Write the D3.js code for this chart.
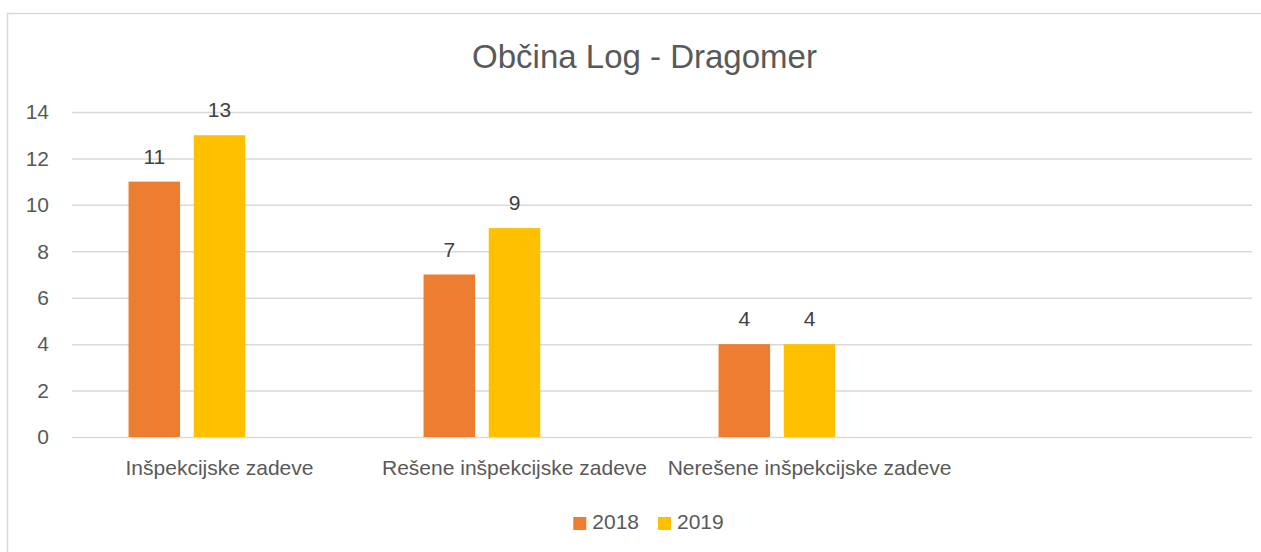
<!DOCTYPE html>
<html>
<head>
<meta charset="utf-8">
<script src="https://cdn.jsdelivr.net/npm/d3@7"></script>
<style>
  body { margin: 0; background: #fff; }
  svg text { font-family: "Liberation Sans", Arial, sans-serif; }
</style>
</head>
<body>
<svg id="canvas" width="1261" height="552"></svg>
<script>
// chart values
let categories = ['Inšpekcijske zadeve', 'Rešene inšpekcijske zadeve', 'Nerešene inšpekcijske zadeve', ''];
let years = ['2018', '2019'];
let values2018 = [11, 7, 4];
let values2019 = [13, 9, 4];
let yTicks = [0, 2, 4, 6, 8, 10, 12, 14];
let colors = ['#ED7D31', '#FFC000'];

// excel kept room for a third (empty) series in every group
let slots = ['2018', '2019', 'empty'];

let svg = d3.select('#canvas');

// chart frame (right and bottom edge fall outside the picture)
svg.append('rect')
    .attr('x', 7.5).attr('y', 13.5)
    .attr('width', 1300).attr('height', 600)
    .attr('fill', '#fff')
    .attr('stroke', '#d9d9d9')
    .attr('stroke-width', 1.5);

let plotLeft = 72, plotRight = 1252, plotTop = 112, plotBottom = 437;

let x0 = d3.scaleBand().domain(categories).range([plotLeft, plotRight]);
let x1 = d3.scaleBand().domain(slots).range([0, x0.bandwidth()])
    .paddingInner(0.21).paddingOuter(0.867);
let y = d3.scaleLinear().domain([0, 14]).range([plotBottom, plotTop]);

// gridlines + tick labels
let yAxis = svg.append('g')
    .attr('transform', `translate(${plotLeft},0)`)
    .call(d3.axisLeft(y).tickValues(yTicks).tickSizeInner(-(plotRight - plotLeft)).tickSizeOuter(0).tickPadding(23));
yAxis.select('.domain').remove();
yAxis.selectAll('line').attr('stroke', '#d9d9d9').attr('stroke-width', 1.5);
yAxis.selectAll('text').attr('fill', '#595959').style('font-size', '21px');

// category labels
let xAxis = svg.append('g')
    .attr('transform', `translate(0,${plotBottom})`)
    .call(d3.axisBottom(x0).tickSize(0).tickPadding(23));
xAxis.select('.domain').remove();
xAxis.selectAll('text').attr('fill', '#595959').style('font-size', '21px');

let series = [values2018, values2019];

series.forEach((vals, i) => {
    let g = svg.append('g');
    g.selectAll('rect')
        .data(vals)
        .enter()
        .append('rect')
        .attr('x', (d, j) => x0(categories[j]) + x1(years[i]))
        .attr('y', d => y(d))
        .attr('width', x1.bandwidth())
        .attr('height', d => y(0) - y(d))
        .attr('fill', colors[i]);

    g.selectAll('text')
        .data(vals)
        .enter()
        .append('text')
        .attr('x', (d, j) => x0(categories[j]) + x1(years[i]) + x1.bandwidth() / 2)
        .attr('y', d => y(d) - 18)
        .attr('text-anchor', 'middle')
        .attr('fill', '#404040')
        .style('font-size', '21px')
        .text(d => d);
});

// title
svg.append('text')
    .attr('x', 644.5).attr('y', 68)
    .attr('text-anchor', 'middle')
    .attr('fill', '#595959')
    .style('font-size', '33px')
    .text('Občina Log - Dragomer');

// legend, centred under the plot
let legend = svg.append('g');
let items = legend.selectAll('g')
    .data(years)
    .enter()
    .append('g');
items.append('rect')
    .attr('width', 13).attr('height', 13)
    .attr('y', 517)
    .attr('fill', (d, i) => colors[i]);
items.append('text')
    .attr('x', 19).attr('y', 529)
    .attr('fill', '#595959')
    .style('font-size', '21px')
    .text(d => d);

let offset = 0;
items.each(function () {
    let w = 19 + d3.select(this).select('text').node().getComputedTextLength();
    d3.select(this).attr('transform', `translate(${offset},0)`);
    offset += w + 19;
});
let legendWidth = offset - 19;
legend.attr('transform', `translate(${648.5 - legendWidth / 2},0)`);
</script>
</body>
</html>
